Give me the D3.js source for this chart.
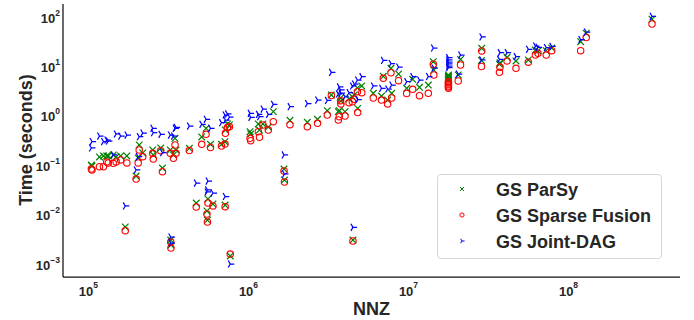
<!DOCTYPE html>
<html>
<head>
<meta charset="utf-8">
<script src="https://cdn.jsdelivr.net/npm/d3@7"></script>
<style>
  html, body { margin: 0; padding: 0; background: #fff; }
  svg { display: block; font-family: "Liberation Sans", Arial, sans-serif; }
</style>
</head>
<body>
<svg id="chart" width="694" height="320"></svg>
<script>
const seriesNames = ["GS ParSy", "GS Sparse Fusion", "GS Joint-DAG"];

const nnz = [1.05e5,1.06e5,1.18e5,1.25e5,1.31e5,1.34e5,1.50e5,1.44e5,1.60e5,1.75e5,
  1.71e5,2.00e5,2.06e5,2.09e5,2.20e5,2.54e5,2.56e5,2.85e5,2.92e5,3.29e5,
  3.30e5,3.27e5,3.42e5,3.50e5,3.55e5,4.30e5,4.75e5,5.14e5,5.47e5,5.83e5,
  5.62e5,6.04e5,5.54e5,5.58e5,6.83e5,7.18e5,7.20e5,7.23e5,7.44e5,7.66e5,
  7.75e5,1.03e6,1.04e6,1.16e6,1.18e6,1.24e6,1.34e6,1.44e6,1.68e6,1.69e6,
  1.83e6,2.35e6,2.72e6,3.13e6,3.32e6,3.67e6,3.72e6,3.79e6,3.81e6,4.04e6,
  4.28e6,4.49e6,4.53e6,4.62e6,4.85e6,4.83e6,5.14e6,6.07e6,6.83e6,7.01e6,
  7.46e6,7.83e6,7.91e6,8.73e6,9.81e6,1.07e7,1.18e7,1.34e7,1.44e7,1.45e7,
  1.79e7,1.79e7,1.79e7,1.79e7,1.79e7,1.79e7,2.06e7,2.13e7,2.89e7,2.88e7,
  3.76e7,3.73e7,4.16e7,4.73e7,5.65e7,6.26e7,6.49e7,7.31e7,7.91e7,1.20e8,
  1.30e8,3.35e8];

const parsyTime = [0.0963,0.092,0.140,0.147,0.147,0.147,0.140,0.154,0.147,0.147,
  0.00536,0.0577,0.134,0.245,0.169,0.194,0.154,0.213,0.0838,0.00292,
  0.00231,0.194,0.154,0.334,0.194,0.210,0.0164,0.356,0.533,0.253,
  0.0198,0.0156,0.0113,0.00742,0.253,0.285,0.0149,0.492,0.652,0.622,
  0.00139,0.455,0.409,0.652,0.492,0.652,0.566,1.16,0.080,0.0478,
  0.774,0.705,0.811,1.21,2.52,1.16,1.21,2.19,1.90,1.16,
  2.09,2.32,0.00292,2.52,1.35,3.49,3.83,2.72,2.40,6.02,
  1.99,8.74,2.72,6.70,3.44,5.23,3.61,4.01,11.9,8.07,
  6.40,6.10,5.82,5.56,5.31,5.06,6.40,13.2,22.2,12.6,
  11.3,10.6,14.6,12.3,12.9,20.5,19.6,19.9,22.5,30.2,
  44.7,86.1];

const sparseFusionTime = [0.080,0.0764,0.089,0.089,0.111,0.106,0.111,0.104,0.122,0.106,
  0.00451,0.0501,0.106,0.194,0.142,0.166,0.127,0.188,0.0705,0.00266,
  0.00201,0.166,0.132,0.245,0.166,0.189,0.0136,0.253,0.403,0.218,
  0.0164,0.0143,0.00982,0.00676,0.233,0.256,0.0138,0.422,0.553,0.574,
  0.00152,0.334,0.299,0.455,0.351,0.622,0.492,0.725,0.0728,0.0436,
  0.631,0.574,0.673,0.991,2.46,0.785,0.916,1.93,1.66,0.946,
  1.76,1.84,0.00279,2.06,1.11,2.94,2.80,2.19,1.99,5.48,
  1.66,7.11,2.19,4.90,2.70,3.28,2.44,2.72,10.6,6.40,
  4.68,4.40,4.10,3.83,3.66,3.44,4.83,10.2,19.6,9.5,
  9.16,7.24,12.3,8.74,11.6,16.2,17.6,16.2,19.9,19.9,
  36.7,68.9];

const jointDagTime = [0.213,0.288,0.372,0.288,0.309,0.295,0.409,0.154,0.372,0.390,
  0.0143,0.0764,0.142,0.360,0.428,0.533,0.434,0.403,0.171,0.00336,
  0.00254,0.390,0.372,0.533,0.558,0.593,0.0416,0.643,0.811,0.533,
  0.0457,0.0261,0.0274,0.0301,0.692,0.991,0.0222,0.785,1.04,0.902,
  0.000955,1.07,0.889,1.02,0.916,1.31,1.02,1.63,0.154,0.0634,
  1.46,1.69,1.99,1.95,7.24,2.64,3.66,3.18,2.76,2.32,
  2.80,3.83,0.00528,4.20,2.04,5.06,5.91,3.83,3.44,12.6,
  3.33,10.9,4.01,9.28,4.68,5.91,5.06,5.96,22.5,8.86,
  14.3,12.9,11.7,10.7,9.72,8.98,6.70,16.2,37.6,12.9,
  18.1,13.2,18.1,15.1,21.2,24.7,23.2,23.0,24.3,33.4,
  47.4,98.6];

const xTickValues = [1e5, 1e6, 1e7, 1e8];
const yTickValues = [1e-3, 1e-2, 1e-1, 1e0, 1e1, 1e2];

(function () {
const svg = d3.select("#chart");
const plotLeft = 63, plotRight = 680, plotTop = 4, plotBottom = 277;
const textColor = "#262626";

const x = d3.scaleLog().domain([Math.pow(10, 4.844), Math.pow(10, 8.70)]).range([plotLeft, plotRight]);
const y = d3.scaleLog().domain([Math.pow(10, -3.283), Math.pow(10, 2.243)]).range([plotBottom, plotTop]);

const expText = v => {
  const e = Math.round(Math.log10(v));
  return e < 0 ? "\u2212" + Math.abs(e) : String(e);
};

const xAxis = d3.axisBottom(x).tickValues(xTickValues).tickSize(0).tickFormat("");
const yAxis = d3.axisLeft(y).tickValues(yTickValues).tickSize(0).tickFormat("");

const gx = svg.append("g").attr("transform", `translate(0,${plotBottom})`).call(xAxis);
gx.select(".domain").attr("stroke", "#111").attr("stroke-width", 1.25).attr("d", `M${plotLeft},0H${plotRight}`);
const gy = svg.append("g").attr("transform", `translate(${plotLeft},0)`).call(yAxis);
gy.select(".domain").attr("stroke", "#111").attr("stroke-width", 1.25).attr("d", `M0,${plotTop}V${plotBottom}`);

gx.selectAll(".tick").each(function(d) {
  const t = d3.select(this).append("text")
    .attr("x", 0).attr("y", 19)
    .attr("text-anchor", "middle")
    .attr("fill", textColor)
    .attr("font-size", 13).attr("font-weight", "bold");
  t.append("tspan").text("10");
  t.append("tspan").attr("dy", -8).attr("font-size", 8.5).text(expText(d));
});
gy.selectAll(".tick").each(function(d) {
  const t = d3.select(this).append("text")
    .attr("x", -3).attr("y", 6)
    .attr("text-anchor", "end")
    .attr("fill", textColor)
    .attr("font-size", 13).attr("font-weight", "bold");
  t.append("tspan").text("10");
  t.append("tspan").attr("dy", -7).attr("font-size", 8.5).text(expText(d));
});

svg.append("text")
  .attr("x", (plotLeft + plotRight) / 2).attr("y", 315)
  .attr("text-anchor", "middle").attr("fill", textColor)
  .attr("font-size", 18).attr("font-weight", "bold")
  .text("NNZ");
svg.append("text")
  .attr("transform", `translate(32,140) rotate(-90)`)
  .attr("text-anchor", "middle").attr("fill", textColor)
  .attr("font-size", 18).attr("font-weight", "bold")
  .text("Time (seconds)");

const xPath = s => `M${-s},${-s}L${s},${s}M${-s},${s}L${s},${-s}`;
const triRightPath = s => {
  const c = Math.cos(Math.PI / 3) * s, sn = Math.sin(Math.PI / 3) * s;
  return `M0,0L${s},0M0,0L${-c},${-sn}M0,0L${-c},${sn}`;
};

const rows = nnz.map((n, i) => ({ n, p: parsyTime[i], s: sparseFusionTime[i], j: jointDagTime[i] }));

const plot = svg.append("g");

plot.append("g").selectAll("path").data(rows).join("path")
  .attr("transform", d => `translate(${x(d.n)},${y(d.p)})`)
  .attr("d", xPath(3.3))
  .attr("stroke", "#008000").attr("stroke-width", 1.2).attr("fill", "none");

plot.append("g").selectAll("circle").data(rows).join("circle")
  .attr("cx", d => x(d.n)).attr("cy", d => y(d.s)).attr("r", 3.2)
  .attr("stroke", "#ff0000").attr("stroke-width", 1.1).attr("fill", "none");

plot.append("g").selectAll("path").data(rows).join("path")
  .attr("transform", d => `translate(${x(d.n)},${y(d.j)})`)
  .attr("d", triRightPath(4.1))
  .attr("stroke", "#0000ff").attr("stroke-width", 1.25).attr("fill", "none");

const lg = svg.append("g");
lg.append("rect")
  .attr("x", 437.5).attr("y", 174.5).attr("width", 224).attr("height", 84)
  .attr("rx", 3.5).attr("ry", 3.5)
  .attr("fill", "rgba(255,255,255,0.85)").attr("stroke", "#d6d6d6").attr("stroke-width", 1);

const legendRows = [189, 215, 241];
lg.append("path").attr("transform", `translate(462,${legendRows[0]})`)
  .attr("d", xPath(2)).attr("stroke", "#008000").attr("stroke-width", 1).attr("fill", "none");
lg.append("circle").attr("cx", 462).attr("cy", legendRows[1]).attr("r", 2.1)
  .attr("stroke", "#ff0000").attr("stroke-width", 1).attr("fill", "none");
lg.append("path").attr("transform", `translate(462,${legendRows[2]})`)
  .attr("d", triRightPath(2.6)).attr("stroke", "#0000ff").attr("stroke-width", 1).attr("fill", "none");

lg.selectAll("text.lab").data(seriesNames).join("text")
  .attr("class", "lab")
  .attr("x", 496).attr("y", (d, i) => legendRows[i] + 6.5)
  .attr("fill", textColor).attr("font-size", 18).attr("font-weight", "bold")
  .text(d => d);
})();
</script>
</body>
</html>
